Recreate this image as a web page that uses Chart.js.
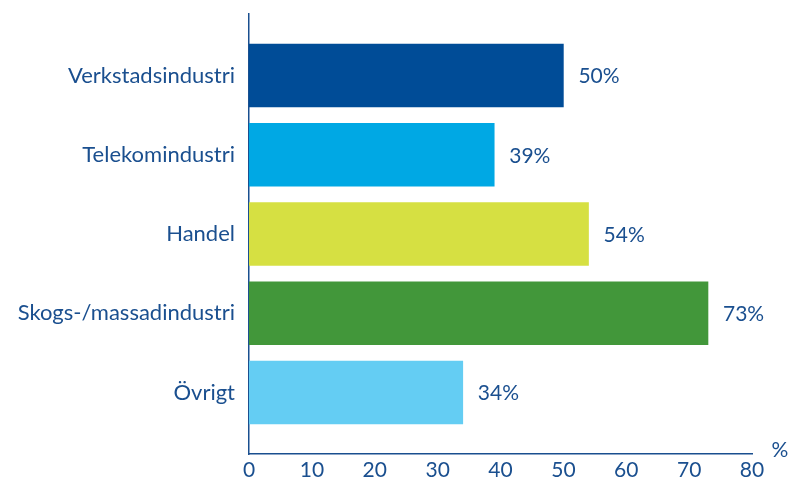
<!DOCTYPE html>
<html>
<head>
<meta charset="utf-8">
<script src="https://cdn.jsdelivr.net/npm/chart.js@4/dist/chart.umd.min.js"></script>
<style>
  body { margin: 0; background: #fff; }
</style>
</head>
<body>
<canvas id="myChart" width="791" height="479"></canvas>

<script>
var categories = ["Verkstadsindustri", "Telekomindustri", "Handel", "Skogs-/massadindustri", "Övrigt"];
var values = [50, 39, 54, 73, 34];
var barColors = ["#004c97", "#00a8e4", "#d6e042", "#42973a", "#64cdf3"];
var xTicks = [0, 10, 20, 30, 40, 50, 60, 70, 80];

var textColor = "#1a4f8f";
var fontFamily = "Lato, 'Open Sans', sans-serif";

// value labels to the right of each bar, and the % unit at the axis end
var labelPlugin = {
  id: "labels",
  afterDatasetsDraw: function (chart) {
    var ctx = chart.ctx;
    var meta = chart.getDatasetMeta(0);
    ctx.save();
    ctx.font = "21px " + fontFamily;
    ctx.fillStyle = textColor;
    ctx.textAlign = "left";
    ctx.textBaseline = "middle";
    meta.data.forEach(function (bar, i) {
      ctx.fillText(values[i] + "%", bar.x + 15, bar.y + 1);
    });
    var area = chart.chartArea;
    ctx.textAlign = "center";
    ctx.fillText("%", area.right + 28, area.bottom - 4);
    ctx.restore();
  }
};

new Chart("myChart", {
  type: "bar",
  data: {
    labels: categories,
    datasets: [{
      data: values.map(function (v, i) { return {x: v, y: i}; }),
      backgroundColor: barColors,
      borderWidth: 0,
      barThickness: 63
    }]
  },
  plugins: [labelPlugin],
  options: {
    indexAxis: "y",
    responsive: false,
    animation: false,
    layout: { padding: { top: 14, right: 39, left: 0, bottom: 0 } },
    plugins: { legend: { display: false }, tooltip: { enabled: false } },
    scales: {
      x: {
        min: 0,
        max: 80,
        afterBuildTicks: function (s) { s.ticks = xTicks.map(function (v) { return {value: v}; }); },
        grid: { display: false, drawTicks: false },
        border: { display: true, color: textColor, width: 1.5 },
        ticks: { color: textColor, font: { family: fontFamily, size: 21 }, padding: 4 },
        afterFit: function (s) { s.height = 25; }
      },
      y: {
        type: "linear",
        reverse: true,
        offset: false,
        min: -0.776,
        max: 4.776,
        afterBuildTicks: function (s) { s.ticks = categories.map(function (c, i) { return {value: i}; }); },
        grid: { display: false, drawTicks: false, offset: false },
        border: { display: true, color: textColor, width: 1.5 },
        ticks: {
          color: textColor,
          font: { family: fontFamily, size: 22 },
          padding: 14,
          callback: function (v) { return categories[v]; }
        },
        afterFit: function (s) {
          s.width = 249;
          s.paddingTop = 0;
          s.paddingBottom = 0;
        }
      }
    }
  }
});
</script>
</body>
</html>
